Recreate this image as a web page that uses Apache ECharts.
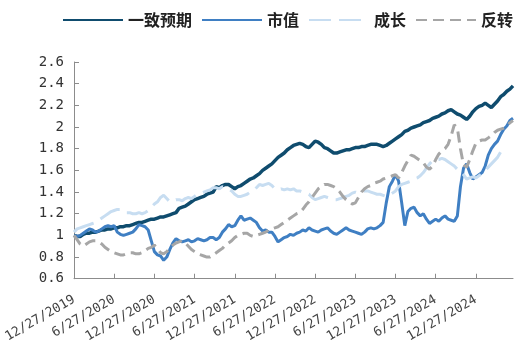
<!DOCTYPE html>
<html><head><meta charset="utf-8">
<script src="https://cdn.jsdelivr.net/npm/echarts@6/dist/echarts.min.js"></script>
<style>html,body{margin:0;padding:0;background:#fff}#c{width:519px;height:345px}</style>
</head><body><div id="c"></div>
<script>
const seriesNames = ["一致预期", "市值", "成长", "反转"];
const xTickLabels = ["12/27/2019","6/27/2020","12/27/2020","6/27/2021","12/27/2021","6/27/2022","12/27/2022","6/27/2023","12/27/2023","6/27/2024","12/27/2024"];

const consensus = [
1.00,0.99,0.99,1.01,1.02,1.02,1.03,1.03,1.04,1.05,
1.05,1.06,1.06,1.07,1.07,1.08,1.08,1.09,1.09,1.10,
1.11,1.12,1.12,1.13,1.14,1.15,1.15,1.16,1.17,1.17,
1.18,1.19,1.20,1.21,1.25,1.26,1.27,1.29,1.31,1.33,
1.34,1.35,1.36,1.38,1.39,1.40,1.45,1.44,1.46,1.47,
1.47,1.45,1.43,1.45,1.46,1.48,1.50,1.52,1.53,1.55,
1.57,1.60,1.62,1.64,1.66,1.69,1.72,1.74,1.76,1.79,
1.81,1.83,1.84,1.85,1.84,1.82,1.81,1.84,1.87,1.86,
1.84,1.81,1.80,1.78,1.76,1.76,1.77,1.78,1.79,1.79,
1.80,1.81,1.81,1.82,1.82,1.83,1.84,1.84,1.84,1.83,
1.82,1.83,1.85,1.87,1.89,1.91,1.93,1.96,1.97,1.99,
2.00,2.01,2.02,2.04,2.05,2.06,2.08,2.09,2.10,2.12,
2.13,2.15,2.16,2.14,2.12,2.11,2.09,2.07,2.10,2.14,
2.17,2.19,2.20,2.22,2.20,2.18,2.21,2.24,2.28,2.30,
2.33,2.35,2.38];

const marketCap = [
1.00,0.99,1.00,1.02,1.04,1.06,1.05,1.03,1.04,1.06,
1.08,1.09,1.08,1.09,1.03,1.01,1.00,1.01,1.02,1.03,
1.06,1.10,1.09,1.08,1.05,0.95,0.85,0.82,0.81,0.77,
0.80,0.87,0.93,0.97,0.95,0.94,0.95,0.96,0.94,0.95,
0.97,0.96,0.95,0.96,0.98,0.98,0.96,0.98,1.03,1.06,
1.10,1.08,1.09,1.14,1.18,1.14,1.15,1.16,1.14,1.12,
1.07,1.04,1.05,1.03,1.03,0.99,0.94,0.96,0.98,0.99,
1.01,1.00,1.02,1.03,1.05,1.04,1.07,1.05,1.04,1.03,
1.05,1.06,1.07,1.04,1.02,1.01,1.03,1.05,1.07,1.05,
1.04,1.03,1.02,1.01,1.03,1.06,1.07,1.06,1.07,1.09,
1.12,1.30,1.45,1.50,1.56,1.50,1.30,1.09,1.22,1.25,
1.26,1.21,1.18,1.20,1.15,1.11,1.13,1.15,1.13,1.16,
1.18,1.15,1.14,1.13,1.18,1.45,1.62,1.66,1.58,1.52,
1.54,1.56,1.58,1.64,1.74,1.80,1.84,1.87,1.93,1.98,
2.01,2.06,2.08];

const growth = [
1.03,1.06,1.07,1.08,1.09,1.10,1.11,1.12,1.14,1.16,
1.18,1.20,1.22,1.23,1.24,1.24,1.22,1.21,1.21,1.20,
1.20,1.21,1.20,1.21,1.23,1.26,1.29,1.31,1.35,1.37,
1.34,1.31,1.32,1.33,1.33,1.32,1.34,1.35,1.34,1.36,
1.38,1.39,1.40,1.41,1.42,1.44,1.44,1.43,1.45,1.44,
1.43,1.41,1.38,1.36,1.36,1.37,1.38,1.40,1.41,1.44,
1.47,1.46,1.47,1.48,1.46,1.43,1.42,1.43,1.42,1.43,
1.42,1.43,1.41,1.41,1.40,1.39,1.38,1.35,1.33,1.34,
1.35,1.36,1.35,1.34,1.33,1.33,1.34,1.35,1.36,1.37,
1.39,1.40,1.39,1.40,1.41,1.41,1.40,1.39,1.38,1.38,
1.37,1.36,1.37,1.39,1.41,1.45,1.47,1.48,1.49,1.50,
1.52,1.53,1.55,1.58,1.62,1.66,1.69,1.70,1.70,1.71,
1.70,1.68,1.66,1.64,1.61,1.59,1.56,1.52,1.53,1.54,
1.53,1.55,1.57,1.60,1.63,1.66,1.69,1.72,1.77,null,
null,null,null];

const reversal = [
1.00,0.96,0.92,0.90,0.92,0.94,0.95,0.95,0.94,0.92,
0.89,0.87,0.85,0.84,0.83,0.82,0.82,0.83,0.84,0.84,
0.83,0.83,0.84,0.86,0.88,0.89,0.91,0.88,0.84,0.83,
0.85,0.88,0.91,0.93,0.94,0.95,0.93,0.90,0.87,0.85,
0.83,0.82,0.81,0.80,0.80,0.82,0.84,0.86,0.88,0.91,
0.93,0.95,0.98,1.00,1.01,1.02,1.02,1.00,0.99,1.00,
1.01,1.02,1.03,1.05,1.06,1.07,1.08,1.10,1.12,1.14,
1.16,1.18,1.20,1.21,1.24,1.28,1.31,1.35,1.39,1.43,
1.45,1.47,1.47,1.46,1.45,1.43,1.40,1.36,1.33,1.31,
1.29,1.30,1.35,1.40,1.43,1.45,1.46,1.48,1.49,1.50,
1.52,1.53,1.54,1.55,1.56,1.53,1.58,1.64,1.69,1.74,
1.73,1.71,1.69,1.67,1.63,1.61,1.64,1.70,1.75,1.78,
1.80,1.84,1.92,2.02,1.99,1.80,1.65,1.63,1.70,1.78,
1.85,1.87,1.88,1.88,1.90,1.92,1.95,1.97,1.98,1.99,
2.01,2.04,2.06];

// biweekly dates starting 12/27/2019
const categories = [];
for (let i = 0; i < consensus.length; i++) {
  const d = new Date(Date.UTC(2019, 11, 27) + i * 14 * 86400000);
  categories.push((d.getUTCMonth()+1) + '/' + d.getUTCDate() + '/' + d.getUTCFullYear());
}

const mono = "'DejaVu Sans Mono', monospace";
const chart = echarts.init(document.getElementById('c'), null, {renderer: 'canvas'});
const mk = (name, data, color, type, width) => ({
  name, type: 'line', data, symbol: 'none', showSymbol: false, connectNulls: false,
  lineStyle: {width: width, color, type}, itemStyle: {color},
  emphasis: {disabled: true}, animation: false
});
chart.setOption({
  animation: false,
  legend: {
    left: 62, top: 12, padding: 0, width: 457, itemWidth: 60, itemHeight: 14, itemGap: 9,
    itemStyle: {opacity: 0},
    textStyle: {fontSize: 16, color: '#222', fontFamily: "'Noto Sans CJK SC'", fontWeight: 'bold'},
    data: seriesNames
  },
  grid: {left: 74, right: 6, top: 62, bottom: 65},
  xAxis: {
    type: 'category', data: categories, boundaryGap: false,
    axisLine: {lineStyle: {color: '#8c8c8c', width: 1}},
    axisTick: {inside: true, length: 5, interval: 12, lineStyle: {color: '#8c8c8c'}},
    axisLabel: {
      interval: 12, rotate: 30, margin: 20, fontSize: 13, color: '#444', fontFamily: mono,
      formatter: (v, i) => xTickLabels[Math.round(i / 13)] || ''
    },
    splitLine: {show: false}
  },
  yAxis: {
    type: 'value', min: 0.6, max: 2.6, interval: 0.2,
    axisLine: {show: true, lineStyle: {color: '#8c8c8c', width: 1}},
    axisTick: {show: true, inside: true, length: 5, lineStyle: {color: '#8c8c8c'}},
    axisLabel: {fontSize: 14, color: '#333', fontFamily: mono, margin: 10,
      formatter: v => String(Math.round(v * 10) / 10)},
    splitLine: {show: false}
  },
  series: [
    mk(seriesNames[0], consensus, '#0f4c6e', 'solid', 3.5),
    mk(seriesNames[1], marketCap, '#3f7fc3', 'solid', 3),
    mk(seriesNames[2], growth, '#c7ddf1', [22, 8], 3),
    mk(seriesNames[3], reversal, '#a6a6a6', [11, 6], 3)
  ]
});
</script></body></html>
